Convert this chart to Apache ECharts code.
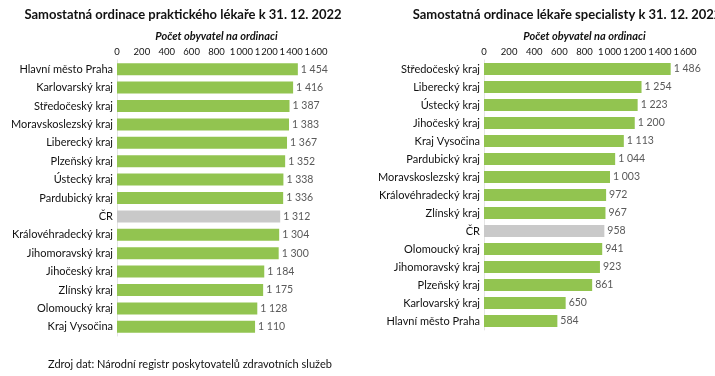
<!DOCTYPE html>
<html>
<head>
<meta charset="utf-8">
<script src="https://cdn.jsdelivr.net/npm/echarts@6/dist/echarts.min.js"></script>
<style>
  html, body { margin: 0; padding: 0; background: #fff; }
  #chart { width: 715px; height: 376px; }
</style>
</head>
<body>
<div id="chart"></div>
<script>
// praktický lékař
var leftCategories = ['Hlavní město Praha', 'Karlovarský kraj', 'Středočeský kraj', 'Moravskoslezský kraj',
  'Liberecký kraj', 'Plzeňský kraj', 'Ústecký kraj', 'Pardubický kraj', 'ČR', 'Královéhradecký kraj',
  'Jihomoravský kraj', 'Jihočeský kraj', 'Zlínský kraj', 'Olomoucký kraj', 'Kraj Vysočina'];
var leftValues = [1454, 1416, 1387, 1383, 1367, 1352, 1338, 1336, 1312, 1304, 1300, 1184, 1175, 1128, 1110];

// lékař specialista
var rightCategories = ['Středočeský kraj', 'Liberecký kraj', 'Ústecký kraj', 'Jihočeský kraj', 'Kraj Vysočina',
  'Pardubický kraj', 'Moravskoslezský kraj', 'Královéhradecký kraj', 'Zlínský kraj', 'ČR',
  'Olomoucký kraj', 'Jihomoravský kraj', 'Plzeňský kraj', 'Karlovarský kraj', 'Hlavní město Praha'];
var rightValues = [1486, 1254, 1223, 1200, 1113, 1044, 1003, 972, 967, 958, 941, 923, 861, 650, 584];

var titles = ['Samostatná ordinace praktického lékaře k 31. 12. 2022', 'Samostatná ordinace lékaře specialisty k 31. 12. 2022'];
var axisName = 'Počet obyvatel na ordinaci';
var source = 'Zdroj dat: Národní registr poskytovatelů zdravotních služeb';

var GREEN = '#92c450';
var GRAY = '#c9c9c9';
var FONT = 'Lato, "Noto Sans", sans-serif';

function fmt(v) {
  return String(v).replace(/\B(?=(\d{3})+(?!\d))/g, ' ');
}
function fmtTick(v) {
  return String(v).replace(/\B(?=(\d{3})+(?!\d))/g, '\u2009');
}

function barData(cats, vals) {
  return vals.map(function (v, i) {
    return { value: v, itemStyle: { color: cats[i] === 'ČR' ? GRAY : GREEN } };
  });
}

// labels are split over two axes (even / odd ticks) so echarts doesn't drop 1 400
function xAxis(idx, even) {
  return {
    gridIndex: idx,
    type: 'value',
    position: 'top',
    min: 0, max: 1600, interval: 200,
    name: even ? axisName : '',
    nameLocation: 'middle',
    nameGap: 14,
    nameTextStyle: { fontFamily: FONT, fontSize: 11, fontWeight: 'bold', fontStyle: 'italic', color: '#111' },
    axisLine: { show: false },
    axisTick: { show: false },
    splitLine: { show: false },
    axisLabel: {
      fontFamily: FONT, fontSize: 9.5, color: '#111', margin: 3,
      showMinLabel: true, showMaxLabel: true,
      formatter: function (v) {
        return ((v / 200) % 2 === 0) === even ? fmtTick(v) : '';
      }
    }
  };
}

function yAxis(idx, cats) {
  return {
    gridIndex: idx,
    type: 'category',
    inverse: true,
    data: cats,
    axisLine: { show: true, lineStyle: { color: '#e4e4e4' } },
    axisTick: { show: false },
    axisLabel: { fontFamily: FONT, fontSize: 11, color: '#111', margin: 4 }
  };
}

function dummyY(idx) {
  return { gridIndex: idx, type: 'category', data: [''], show: false };
}

function series(idx, cats, vals) {
  return {
    type: 'bar',
    xAxisIndex: idx,
    yAxisIndex: idx,
    barWidth: 12,
    data: barData(cats, vals),
    label: {
      show: true, position: 'right', distance: 3,
      fontFamily: FONT, fontSize: 10.5, color: '#595959',
      formatter: function (p) { return fmt(p.value); }
    }
  };
}

var chart = echarts.init(document.getElementById('chart'));
chart.setOption({
  animation: false,
  backgroundColor: '#fff',
  title: [
    { text: titles[0], left: 178, top: 3, textAlign: 'center',
      textStyle: { fontFamily: FONT, fontSize: 13, fontWeight: 'bold', color: '#111' } },
    { text: titles[1], left: 562, top: 3, textAlign: 'center',
      textStyle: { fontFamily: FONT, fontSize: 13, fontWeight: 'bold', color: '#111' } },
    { text: source, left: 43, top: 354,
      textStyle: { fontFamily: FONT, fontSize: 11, fontWeight: 'normal', color: '#111' } }
  ],
  grid: [
    { left: 117, width: 199, top: 60, height: 276 },
    { left: 484, width: 201, top: 60, height: 270 },
    { left: 117, width: 199, top: 60, height: 1 },
    { left: 484, width: 201, top: 60, height: 1 }
  ],
  xAxis: [xAxis(0, true), xAxis(1, true), xAxis(2, false), xAxis(3, false)],
  yAxis: [yAxis(0, leftCategories), yAxis(1, rightCategories), dummyY(2), dummyY(3)],
  series: [series(0, leftCategories, leftValues), series(1, rightCategories, rightValues)]
});
</script>
</body>
</html>
